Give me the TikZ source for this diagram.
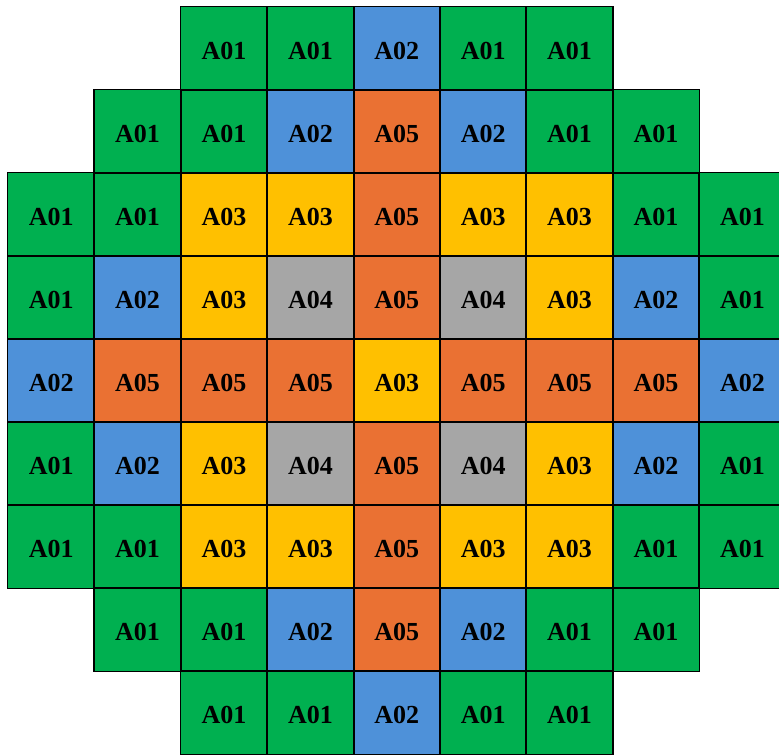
\documentclass[tikz,border=0pt]{standalone}
\usepackage{fontspec}
\setmainfont{Liberation Serif}
\definecolor{colA01}{HTML}{00B050}
\definecolor{colA02}{HTML}{4E91D9}
\definecolor{colA03}{HTML}{FFC000}
\definecolor{colA04}{HTML}{A6A6A6}
\definecolor{colA05}{HTML}{EA7133}
\begin{document}
\begin{tikzpicture}[
    cell/.style={inner sep=0pt,
        minimum width=2.16cm, minimum height=2.075cm,
        text height=15.8pt, font=\bfseries\fontsize{18.5}{22}\selectfont},
    cellborder/.style={draw=black, line width=1pt}
]
    % Page size (1px = 0.025cm)
    \useasboundingbox (0,0) rectangle (19.475,-18.875);

    % Each row: row index / first column / assembly types
    \foreach \r/\first/\codes in {
        0/2/{1,1,2,1,1},
        1/1/{1,1,2,5,2,1,1},
        2/0/{1,1,3,3,5,3,3,1,1},
        3/0/{1,2,3,4,5,4,3,2,1},
        4/0/{2,5,5,5,3,5,5,5,2},
        5/0/{1,2,3,4,5,4,3,2,1},
        6/0/{1,1,3,3,5,3,3,1,1},
        7/1/{1,1,2,5,2,1,1},
        8/2/{1,1,2,1,1}}{
        \foreach \t [count=\i from 0] in \codes {
            \pgfmathtruncatemacro{\c}{\first+\i}
            % Centre of the cell
            \pgfmathsetmacro{\xc}{0.2+\c*2.16+1.08}
            \pgfmathsetmacro{\yc}{-(0.175+\r*2.075+1.0375)}
            \node[cell, fill=colA0\t] (cell\r-\c) at (\xc,\yc) {A0\t};
        }
    }

    % Borders on top of all fills
    \foreach \r/\first/\last in {0/2/6, 1/1/7, 2/0/8, 3/0/8, 4/0/8,
                                 5/0/8, 6/0/8, 7/1/7, 8/2/6}{
        \foreach \c in {\first,...,\last}{
            \draw[cellborder] (cell\r-\c.south west) rectangle (cell\r-\c.north east);
        }
    }
\end{tikzpicture}
\end{document}
